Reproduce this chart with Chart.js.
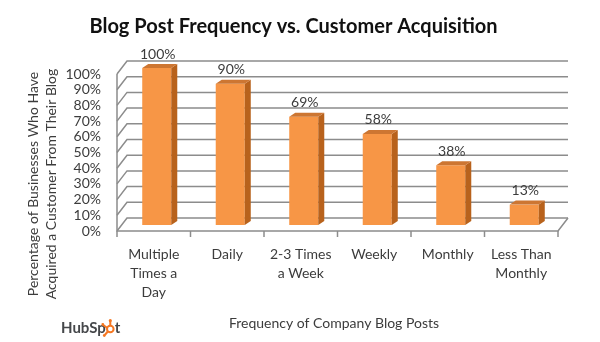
<!DOCTYPE html>
<html>
<head>
<meta charset="utf-8">
<script src="https://cdn.jsdelivr.net/npm/chart.js@4.4.0/dist/chart.umd.min.js"></script>
<style>
  html, body { margin: 0; padding: 0; background: #fff; }
  canvas { display: block; }
</style>
</head>
<body>
<canvas id="myChart" width="600" height="342"></canvas>
<script>
const chartTitle = 'Blog Post Frequency vs. Customer Acquisition';
const categories = [['Multiple', 'Times a', 'Day'], 'Daily', ['2-3 Times', 'a Week'], 'Weekly', 'Monthly', ['Less Than', 'Monthly']];
const shareValues = [100, 90, 69, 58, 38, 13];
const yTickValues = [0, 10, 20, 30, 40, 50, 60, 70, 80, 90, 100];
const yTitle = ['Percentage of Businesses Who Have', 'Acquired a Customer From Their Blog'];
const xTitle = 'Frequency of Company Blog Posts';

// fake 3d: front plane / back wall offsets from the bar plane, bar depth
const FRONT = { x: -3, y: 6 };
const BACK = { x: 7, y: -7 };
const DEPTH = { x: 6, y: -4 };
const textColor = '#3c3c3c';
const gridColor = '#8c8c8c';

const wall3d = {
	id: 'wall3d',
	beforeDatasetsDraw(chart) {
		const { ctx, chartArea: a, scales: { x, y } } = chart;
		ctx.save();
		ctx.strokeStyle = gridColor;
		ctx.lineWidth = 1.5;
		yTickValues.forEach(v => {
			const py = y.getPixelForValue(v);
			ctx.beginPath();
			ctx.moveTo(a.left + FRONT.x, py + FRONT.y);
			ctx.lineTo(a.left + BACK.x, py + BACK.y);
			ctx.lineTo(a.right + BACK.x, py + BACK.y);
			ctx.stroke();
		});
		const y0 = y.getPixelForValue(0);
		const y1 = y.getPixelForValue(100);
		ctx.beginPath();
		ctx.moveTo(a.left + FRONT.x, y1 + FRONT.y);
		ctx.lineTo(a.left + FRONT.x, y0 + FRONT.y);
		ctx.lineTo(a.right + FRONT.x, y0 + FRONT.y);
		ctx.lineTo(a.right + BACK.x, y0 + BACK.y);
		ctx.stroke();
		// category tick marks under the floor
		const half = (x.getPixelForValue(1) - x.getPixelForValue(0)) / 2;
		for (let i = 0; i <= categories.length; i++) {
			const bx = x.getPixelForValue(i) - half + FRONT.x;
			ctx.beginPath();
			ctx.moveTo(bx, y0 + FRONT.y);
			ctx.lineTo(bx, y0 + FRONT.y + 6);
			ctx.stroke();
		}
		ctx.restore();
	},
	afterDatasetsDraw(chart) {
		const { ctx } = chart;
		const meta = chart.getDatasetMeta(0);
		ctx.save();
		meta.data.forEach((bar, i) => {
			const { x, y, base, width } = bar.getProps(['x', 'y', 'base', 'width'], true);
			const l = x - width / 2;
			const r = x + width / 2;
			// side face
			ctx.fillStyle = '#B8621C';
			ctx.beginPath();
			ctx.moveTo(r, y);
			ctx.lineTo(r + DEPTH.x, y + DEPTH.y);
			ctx.lineTo(r + DEPTH.x, base + DEPTH.y);
			ctx.lineTo(r, base);
			ctx.closePath();
			ctx.fill();
			// top face
			ctx.fillStyle = '#CD7632';
			ctx.beginPath();
			ctx.moveTo(l, y);
			ctx.lineTo(l + DEPTH.x, y + DEPTH.y);
			ctx.lineTo(r + DEPTH.x, y + DEPTH.y);
			ctx.lineTo(r, y);
			ctx.closePath();
			ctx.fill();
			// value label
			ctx.fillStyle = textColor;
			ctx.font = '14px Lato';
			ctx.textAlign = 'center';
			ctx.textBaseline = 'middle';
			ctx.fillText(shareValues[i] + '%', x + 1, y - 14);
		});
		ctx.restore();
	},
	afterDraw(chart) {
		const { ctx } = chart;
		ctx.save();
		ctx.fillStyle = textColor;
		ctx.font = '14px Lato';
		ctx.textAlign = 'center';
		ctx.textBaseline = 'middle';
		// y axis title, two rotated lines
		ctx.translate(33, 184);
		ctx.rotate(-Math.PI / 2);
		ctx.fillText(yTitle[0], 0, 0);
		ctx.fillText(yTitle[1], 0, 18);
		ctx.setTransform(1, 0, 0, 1, 0, 0);
		ctx.fillText(xTitle, 334, 323);

		// HubSpot mark
		ctx.font = 'bold 15px Lato';
		ctx.textAlign = 'left';
		ctx.fillStyle = '#45474a';
		let hx = 61;
		ctx.fillText('HubSp', hx, 328);
		hx += ctx.measureText('HubSp').width;
		const cx = hx + 4.5, cy = 329;
		ctx.strokeStyle = '#F57722';
		ctx.fillStyle = '#F57722';
		ctx.lineWidth = 2;
		ctx.beginPath();
		ctx.arc(cx, cy, 3.3, 0, Math.PI * 2);
		ctx.stroke();
		ctx.beginPath();
		ctx.moveTo(cx, cy - 3); ctx.lineTo(cx, cy - 8);
		ctx.moveTo(cx - 2.5, cy + 2.5); ctx.lineTo(cx - 5.5, cy + 6);
		ctx.moveTo(cx - 3, cy - 1); ctx.lineTo(cx - 7, cy - 4);
		ctx.stroke();
		ctx.beginPath();
		ctx.arc(cx, cy - 8.5, 1.6, 0, Math.PI * 2);
		ctx.arc(cx - 7.5, cy - 4.5, 1.4, 0, Math.PI * 2);
		ctx.fill();
		ctx.beginPath();
		ctx.arc(cx - 6, cy + 6.5, 1.4, 0, Math.PI * 2);
		ctx.fill();
		ctx.fillStyle = '#45474a';
		ctx.fillText('t', hx + 9, 328);
		ctx.restore();
	}
};

const ctx = document.getElementById('myChart').getContext('2d');
new Chart(ctx, {
	type: 'bar',
	data: {
		labels: categories,
		datasets: [
			{
				label: 'Businesses',
				data: shareValues,
				backgroundColor: '#F79646',
				borderWidth: 0,
				categoryPercentage: 1,
				barPercentage: 0.395,
			}
		],
	},
	options: {
		responsive: false,
		animation: false,
		devicePixelRatio: 1,
		layout: { padding: { left: 26, right: 39, top: 0, bottom: 0 } },
		plugins: {
			legend: { display: false },
			tooltip: { enabled: false },
			title: {
				display: true,
				text: chartTitle,
				color: '#111',
				font: { family: 'Lato', size: 20, weight: 'bold', lineHeight: 1.2 },
				padding: { top: 15, bottom: 29 },
			},
		},
		scales: {
			x: {
				grid: { display: false, drawTicks: false },
				border: { display: false },
				ticks: {
					color: textColor,
					font: { family: 'Lato', size: 14, lineHeight: 19 / 14 },
					padding: 19.5,
					labelOffset: FRONT.x,
					maxRotation: 0,
					autoSkip: false,
				},
				afterFit(scale) { scale.height = 117; },
			},
			y: {
				min: 0,
				max: 100,
				grid: { display: false, drawTicks: false },
				border: { display: false },
				ticks: {
					stepSize: 10,
					autoSkip: false,
					color: textColor,
					font: { family: 'Lato', size: 14 },
					padding: 19,
					labelOffset: FRONT.y,
					callback: v => v + '%',
				},
				afterFit(scale) { scale.width = 94; },
			},
		},
	},
	plugins: [wall3d],
});
</script>
</body>
</html>
